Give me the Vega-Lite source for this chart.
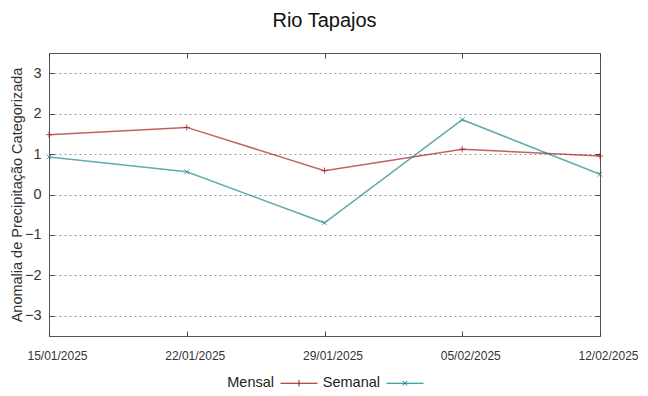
{
  "$schema": "https://vega.github.io/schema/vega-lite/v6.json",
  "autosize": "none",
  "width": 551,
  "height": 283,
  "padding": {"left": 49, "top": 53, "right": 48, "bottom": 60},
  "background": "white",
  "title": {"text": "Rio Tapajos", "fontSize": 20, "font": "Liberation Sans", "fontWeight": "normal", "color": "#111", "offset": 22, "anchor": "middle"},
  "config": {
    "view": {"stroke": "#555", "strokeWidth": 1},
    "font": "Liberation Sans",
    "axis": {"domain": false, "labelFont": "Liberation Sans", "titleFont": "Liberation Sans", "labelColor": "#333", "titleColor": "#333", "tickColor": "#444"}
  },
  "data": {"values": [
    {"data": "15/01/2025", "serie": "Mensal", "valor": 1.48},
    {"data": "22/01/2025", "serie": "Mensal", "valor": 1.66},
    {"data": "29/01/2025", "serie": "Mensal", "valor": 0.59},
    {"data": "05/02/2025", "serie": "Mensal", "valor": 1.12},
    {"data": "12/02/2025", "serie": "Mensal", "valor": 0.95},
    {"data": "15/01/2025", "serie": "Semanal", "valor": 0.93},
    {"data": "22/01/2025", "serie": "Semanal", "valor": 0.56},
    {"data": "29/01/2025", "serie": "Semanal", "valor": -0.70},
    {"data": "05/02/2025", "serie": "Semanal", "valor": 1.85},
    {"data": "12/02/2025", "serie": "Semanal", "valor": 0.50}
  ]},
  "resolve": {"axis": {"x": "independent", "y": "independent"}},
  "layer": [
    {
      "mark": {"type": "line", "strokeWidth": 1.5, "strokeOpacity": 0.65},
      "encoding": {
        "x": {"field": "data", "type": "ordinal", "sort": null,
              "scale": {"type": "point", "padding": 0},
              "axis": {"orient": "bottom", "title": null, "labelAngle": 0, "labelFontSize": 12, "tickSize": -5, "labelPadding": 19, "labelOffset": 8, "labelOverlap": false, "labelFlush": false, "labelBound": false, "grid": false}},
        "y": {"field": "valor", "type": "quantitative",
              "scale": {"domain": [-3.5, 3.5], "nice": false, "zero": false},
              "axis": {"orient": "left", "title": "Anomalia de Precipitação Categorizada", "titleFontSize": 14.5, "titleFontWeight": "normal", "titlePadding": 0, "labelFontSize": 14.5, "values": [-3, -2, -1, 0, 1, 2, 3], "tickSize": -5, "labelPadding": 13, "grid": true, "gridColor": "#999", "gridDash": [2, 3], "gridWidth": 1}},
        "color": {"field": "serie", "type": "nominal",
                  "scale": {"domain": ["Mensal", "Semanal"], "range": ["#a01010", "#108080"]},
                  "legend": {"orient": "none", "legendX": 231, "legendY": 311, "direction": "horizontal", "title": null, "labelFontSize": 14.5, "labelColor": "#222", "labelAlign": "right", "labelOffset": -44, "symbolSize": 1369, "symbolStrokeWidth": 1, "columnPadding": 2,
                    "encode": {"symbols": {"update": {"shape": {"signal": "datum.value === 'Mensal' ? 'M-1,0L1,0M0,-0.17L0,0.17' : 'M-1,0L1,0M-0.12,-0.12L0.12,0.12M-0.12,0.12L0.12,-0.12'"}, "fill": {"value": "transparent"}}}}}}
      }
    },
    {
      "transform": [{"filter": "datum.serie === 'Mensal'"}],
      "mark": {"type": "point", "filled": false, "strokeWidth": 1, "size": 40, "shape": "M-1,0L1,0M0,-1L0,1"},
      "encoding": {
        "x": {"field": "data", "type": "ordinal", "sort": null,
              "axis": {"orient": "top", "title": null, "labels": false, "tickSize": -5, "grid": false}},
        "y": {"field": "valor", "type": "quantitative",
              "axis": {"orient": "right", "title": null, "labels": false, "values": [-3, -2, -1, 0, 1, 2, 3], "tickSize": -5, "grid": false}},
        "color": {"field": "serie", "type": "nominal", "legend": null}
      }
    },
    {
      "transform": [{"filter": "datum.serie === 'Semanal'"}],
      "mark": {"type": "point", "filled": false, "strokeWidth": 1, "size": 40, "shape": "M-0.75,-0.75L0.75,0.75M-0.75,0.75L0.75,-0.75"},
      "encoding": {
        "x": {"field": "data", "type": "ordinal", "sort": null, "axis": null},
        "y": {"field": "valor", "type": "quantitative", "axis": null},
        "color": {"field": "serie", "type": "nominal", "legend": null}
      }
    }
  ]
}
